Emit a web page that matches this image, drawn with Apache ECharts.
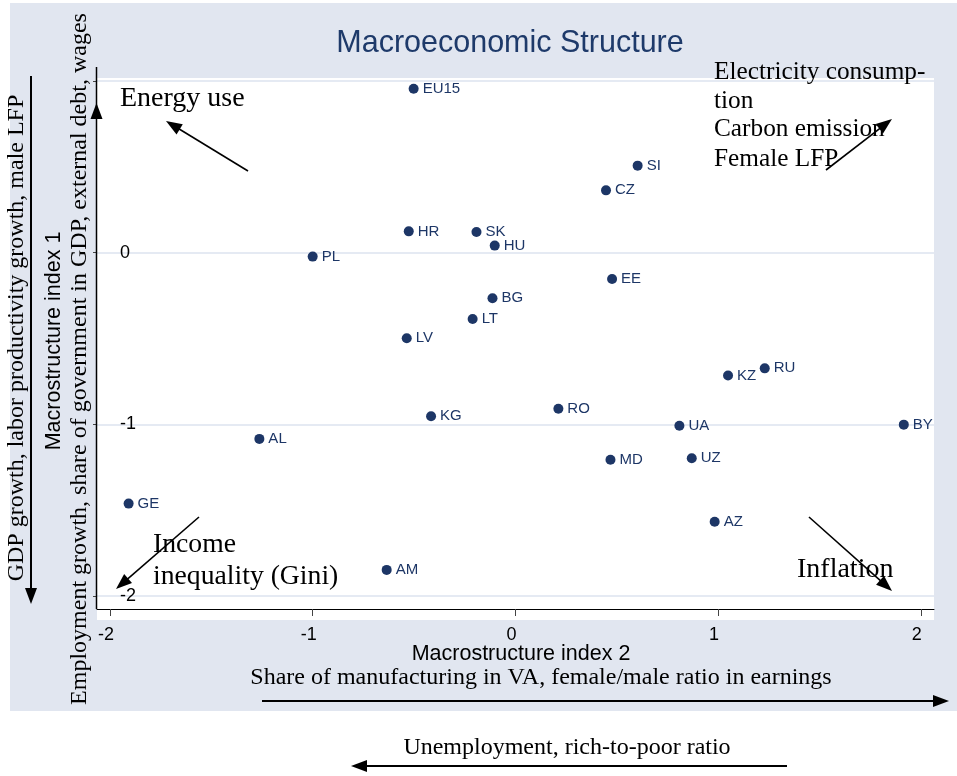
<!DOCTYPE html>
<html>
<head>
<meta charset="utf-8">
<title>Macroeconomic Structure</title>
<script src="https://cdn.jsdelivr.net/npm/echarts@6/dist/echarts.min.js"></script>
<style>
  html, body { margin: 0; padding: 0; background: #ffffff; }
  #chart { width: 957px; height: 776px; }
</style>
</head>
<body>
<div id="chart"></div>
<script>
// Country codes and their scores on the two macrostructure indices
const countries = ['EU15', 'SI', 'CZ', 'HR', 'SK', 'HU', 'PL', 'EE', 'BG', 'LT', 'LV',
                   'KG', 'RO', 'RU', 'KZ', 'UA', 'BY', 'AL', 'GE', 'MD', 'UZ', 'AZ', 'AM'];
// Macrostructure index 2 (horizontal)
const index2 = [-0.502, 0.603, 0.447, -0.526, -0.192, -0.102, -1.000, 0.477, -0.113, -0.211, -0.536,
                -0.416, 0.212, 1.230, 1.049, 0.809, 1.916, -1.263, -1.908, 0.469, 0.870, 0.983, -0.635];
// Macrostructure index 1 (vertical)
const index1 = [0.955, 0.507, 0.363, 0.124, 0.120, 0.041, -0.023, -0.153, -0.266, -0.386, -0.499,
                -0.953, -0.909, -0.674, -0.716, -1.008, -1.002, -1.085, -1.462, -1.206, -1.198, -1.568, -1.848];

const xTickValues = [-2, -1, 0, 1, 2];
const yTickValues = [1, 0, -1, -2];
const yLabelValues = [0, -1, -2];

const NAVY = '#1d3666';
const SERIF = '"Liberation Serif", "Times New Roman", serif';
const SANS = '"Liberation Sans", Arial, sans-serif';

// Straight arrow from (x1,y1) to the tip (x2,y2) with a filled head
function arrow(x1, y1, x2, y2, width) {
  const dx = x2 - x1, dy = y2 - y1;
  const len = Math.sqrt(dx * dx + dy * dy);
  const ux = dx / len, uy = dy / len;
  const h = 16, w = 6;
  const bx = x2 - ux * h, by = y2 - uy * h;
  const nx = -uy, ny = ux;
  return [
    { type: 'line', silent: true, z: 50,
      shape: { x1: x1, y1: y1, x2: bx + ux * 2, y2: by + uy * 2 },
      style: { stroke: '#000', lineWidth: width || 1.6 } },
    { type: 'polygon', silent: true, z: 50,
      shape: { points: [[x2, y2], [bx + nx * w, by + ny * w], [bx - nx * w, by - ny * w]] },
      style: { fill: '#000' } }
  ];
}

function serifText(str, x, y, size, align) {
  return { type: 'text', silent: true, z: 40, x: x, y: y,
    style: { text: str, font: size + 'px ' + SERIF, fill: '#000',
             align: align || 'left', verticalAlign: 'middle' } };
}

const chart = echarts.init(document.getElementById('chart'), null, { renderer: 'canvas' });

const graphics = [
  // graph region background
  { type: 'rect', silent: true, z: -10, shape: { x: 10, y: 3, width: 947, height: 708 },
    style: { fill: '#e1e6f0' } },
  // axis titles
  { type: 'text', silent: true, z: 40, x: 54, y: 341, rotation: Math.PI / 2,
    style: { text: 'Macrostructure index 1', font: '21.5px ' + SANS, fill: '#000',
             align: 'center', verticalAlign: 'middle' } },
  { type: 'text', silent: true, z: 40, x: 521, y: 654,
    style: { text: 'Macrostructure index 2', font: '21.5px ' + SANS, fill: '#000',
             align: 'center', verticalAlign: 'middle' } },
  // rotated descriptions on the left
  { type: 'text', silent: true, z: 40, x: 80, y: 359, rotation: Math.PI / 2,
    style: { text: 'Employment growth, share of government in GDP, external debt, wages',
             font: '24px ' + SERIF, fill: '#000', align: 'center', verticalAlign: 'middle' } },
  { type: 'text', silent: true, z: 40, x: 17, y: 338, rotation: Math.PI / 2,
    style: { text: 'GDP growth, labor productivity growth, male LFP',
             font: '24px ' + SERIF, fill: '#000', align: 'center', verticalAlign: 'middle' } },
  // corner labels
  serifText('Energy use', 120, 99, 28),
  serifText('Electricity consump-', 714, 72, 25.3),
  serifText('tion', 714, 101, 25.3),
  serifText('Carbon emission', 714, 129, 25.3),
  serifText('Female LFP', 714, 159, 25.3),
  serifText('Income', 153, 545, 27.7),
  serifText('inequality (Gini)', 153, 577, 27.7),
  serifText('Inflation', 797, 570, 28),
  // bottom descriptions
  serifText('Share of manufacturing in VA, female/male ratio in earnings', 541, 678, 24, 'center'),
  serifText('Unemployment, rich-to-poor ratio', 567, 748, 24, 'center'),
  // vertical axis line extended upwards with its arrow head
  { type: 'line', silent: true, z: 50, shape: { x1: 96.5, y1: 67, x2: 96.5, y2: 609 },
    style: { stroke: '#000', lineWidth: 1.5 } },
  { type: 'polygon', silent: true, z: 50,
    shape: { points: [[96.5, 103], [90.5, 119], [102.5, 119]] }, style: { fill: '#000' } }
].concat(
  arrow(248, 171, 166, 121),
  arrow(826, 170, 892, 119),
  arrow(199, 517, 116, 589),
  arrow(809, 517, 892, 591),
  arrow(31, 76, 31, 604, 2),
  arrow(262, 701, 949, 701, 2),
  arrow(787, 766, 351, 766, 2)
);

const option = {
  animation: false,
  backgroundColor: '#ffffff',
  title: {
    text: 'Macroeconomic Structure',
    left: 505, top: 23, textAlign: 'center',
    textStyle: { fontFamily: SANS, fontSize: 30.5, fontWeight: 'normal', color: '#1e3a6a' }
  },
  grid: {
    left: 97, right: 23, top: 78, bottom: 156,
    show: true, backgroundColor: '#ffffff', borderWidth: 0, z: 0
  },
  xAxis: {
    type: 'value', min: -2.064, max: 2.065, offset: -11,
    axisLine: { show: true, onZero: false, lineStyle: { color: '#000', width: 1 } },
    axisTick: { show: true, inside: false, length: 7, customValues: xTickValues,
                lineStyle: { color: '#444', width: 1 } },
    axisLabel: { show: true, customValues: xTickValues, margin: 17,
                 fontFamily: SANS, fontSize: 18, color: '#000', padding: [0, 8, 0, 0] },
    splitLine: { show: false }
  },
  yAxis: {
    type: 'value', min: -2.14, max: 1.0175,
    axisLine: { show: false, onZero: false },
    axisTick: { show: true, inside: false, length: 4, customValues: yTickValues,
                lineStyle: { color: '#444', width: 1 } },
    axisLabel: { show: true, inside: true, customValues: yLabelValues, margin: 23,
                 fontFamily: SANS, fontSize: 18, color: '#000', padding: [8, 0, 0, 0] },
    splitLine: { show: true, lineStyle: { color: '#dde3ef', width: 1.5 } }
  },
  series: [{
    type: 'scatter',
    symbol: 'circle',
    symbolSize: 10,
    itemStyle: { color: NAVY, opacity: 1 },
    data: countries.map((c, i) => ({ name: c, value: [index2[i], index1[i]] })),
    label: {
      show: true, position: 'right', distance: 4,
      formatter: p => p.name,
      fontFamily: SANS, fontSize: 15, color: NAVY
    }
  }],
  graphic: graphics
};

chart.setOption(option);
</script>
</body>
</html>
